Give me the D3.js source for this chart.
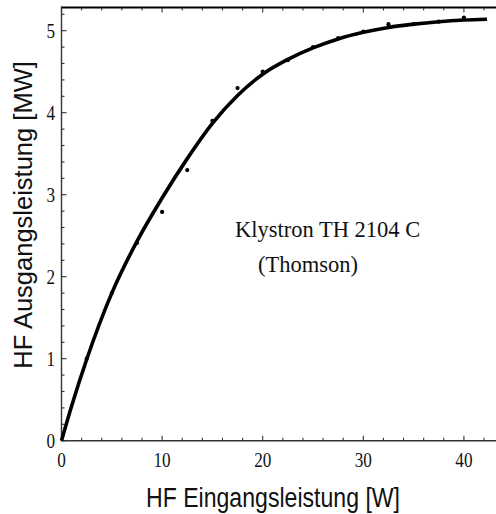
<!DOCTYPE html>
<html>
<head>
<meta charset="utf-8">
<script src="https://cdn.jsdelivr.net/npm/d3@7"></script>
<style>
  html, body { margin: 0; padding: 0; background: #fff; }
  svg { display: block; }
</style>
</head>
<body>
<svg id="chart" width="496" height="514"></svg>
<script>
// Measured points (HF input power [W] vs. output power [MW])
const measX = [2.5, 5, 7.5, 10, 12.5, 15, 17.5, 20, 22.5, 25, 27.5, 30, 32.5, 35, 37.5, 40];
const measY = [1.0, 1.8, 2.41, 2.79, 3.3, 3.9, 4.3, 4.5, 4.64, 4.8, 4.91, 4.99, 5.08, 5.08, 5.11, 5.16];
// Fitted curve
const fitX = [0, 1, 2.5, 5, 7.5, 10, 12.5, 15, 17.5, 20, 22.5, 25, 27.5, 30, 32.5, 35, 37.5, 40, 42.3];
const fitY = [0, 0.42, 0.99, 1.8, 2.43, 2.96, 3.44, 3.87, 4.21, 4.47, 4.65, 4.79, 4.9, 4.98, 5.04, 5.08, 5.11, 5.13, 5.14];
// Ticks
const xMajor = [0, 10, 20, 30, 40];
const xMinor = [2, 4, 6, 8, 12, 14, 16, 18, 22, 24, 26, 28, 32, 34, 36, 38, 42];
const yMajor = [0, 1, 2, 3, 4, 5];
const yMinor = [0.2,0.4,0.6,0.8,1.2,1.4,1.6,1.8,2.2,2.4,2.6,2.8,3.2,3.4,3.6,3.8,4.2,4.4,4.6,4.8,5.2];
const xLabel = "HF Eingangsleistung [W]";
const yLabel = "HF Ausgangsleistung [MW]";
const noteLines = ["Klystron TH 2104 C", "(Thomson)"];

const svg = d3.select("#chart");
const pLeft = 61.5, pTop = 7.5, pRight = 496, pBottom = 440.7;
const x = d3.scaleLinear().domain([0, 43.19]).range([pLeft, pRight]);
const y = d3.scaleLinear().domain([0, 5.283]).range([pBottom, pTop]);

// Axes lines
svg.append("line").attr("x1", pLeft).attr("x2", pRight).attr("y1", pBottom).attr("y2", pBottom)
  .attr("stroke", "#333").attr("stroke-width", 1.6);
svg.append("line").attr("x1", pLeft).attr("x2", pLeft).attr("y1", pBottom).attr("y2", pTop - 1)
  .attr("stroke", "#333").attr("stroke-width", 1.4);
svg.append("line").attr("x1", pLeft).attr("x2", pRight).attr("y1", pTop).attr("y2", pTop)
  .attr("stroke", "#000").attr("stroke-width", 2);

// Tick marks
const tg = svg.append("g").attr("stroke", "#333").attr("stroke-width", 1.1);
xMajor.forEach(v => {
  tg.append("line").attr("x1", x(v)).attr("x2", x(v)).attr("y1", pBottom).attr("y2", pBottom - 5);
  tg.append("line").attr("x1", x(v)).attr("x2", x(v)).attr("y1", pTop).attr("y2", pTop + 5);
});
xMinor.forEach(v => {
  tg.append("line").attr("x1", x(v)).attr("x2", x(v)).attr("y1", pBottom).attr("y2", pBottom - 3);
  tg.append("line").attr("x1", x(v)).attr("x2", x(v)).attr("y1", pTop).attr("y2", pTop + 3);
});
yMajor.forEach(v => {
  tg.append("line").attr("x1", pLeft).attr("x2", pLeft + 5).attr("y1", y(v)).attr("y2", y(v));
});
yMinor.forEach(v => {
  tg.append("line").attr("x1", pLeft).attr("x2", pLeft + 3).attr("y1", y(v)).attr("y2", y(v));
});

// Tick labels (condensed serif)
const tickFont = "'Liberation Serif', 'Times New Roman', serif";
xMajor.forEach(v => {
  svg.append("text")
    .attr("transform", `translate(${x(v)},${467}) scale(0.78,1)`)
    .attr("text-anchor", "middle")
    .attr("font-family", tickFont).attr("font-size", 22).attr("fill", "#111")
    .text(v);
});
yMajor.forEach(v => {
  svg.append("text")
    .attr("transform", `translate(${55},${y(v) + 7.5}) scale(0.78,1)`)
    .attr("text-anchor", "end")
    .attr("font-family", tickFont).attr("font-size", 22).attr("fill", "#111")
    .text(v);
});

// Axis titles
svg.append("text")
  .attr("transform", `translate(273,507) scale(0.84,1)`)
  .attr("text-anchor", "middle")
  .attr("font-family", "'Liberation Sans', Arial, sans-serif").attr("font-size", 27.5).attr("fill", "#111")
  .text(xLabel);
svg.append("text")
  .attr("transform", `translate(32,215) rotate(-90)`)
  .attr("text-anchor", "middle")
  .attr("font-family", "'Liberation Sans', Arial, sans-serif").attr("font-size", 25.5).attr("fill", "#111")
  .text(yLabel);

// Annotation
svg.append("text").attr("x", 235).attr("y", 236.7)
  .attr("font-family", tickFont).attr("font-size", 22.5).attr("fill", "#111")
  .text(noteLines[0]);
svg.append("text").attr("x", 258).attr("y", 271.7)
  .attr("font-family", tickFont).attr("font-size", 22.5).attr("fill", "#111")
  .text(noteLines[1]);

// Fit curve
const line = d3.line().x(d => x(d[0])).y(d => y(d[1])).curve(d3.curveMonotoneX);
svg.append("path").datum(fitX.map((v, i) => [v, fitY[i]]))
  .attr("d", line).attr("fill", "none").attr("stroke", "#000").attr("stroke-width", 3.6)
  .attr("stroke-linejoin", "round");

// Measured dots
svg.append("g").selectAll("circle").data(measX.map((v, i) => [v, measY[i]]))
  .join("circle")
  .attr("cx", d => x(d[0])).attr("cy", d => y(d[1])).attr("r", 2.1).attr("fill", "#000");
</script>
</body>
</html>
